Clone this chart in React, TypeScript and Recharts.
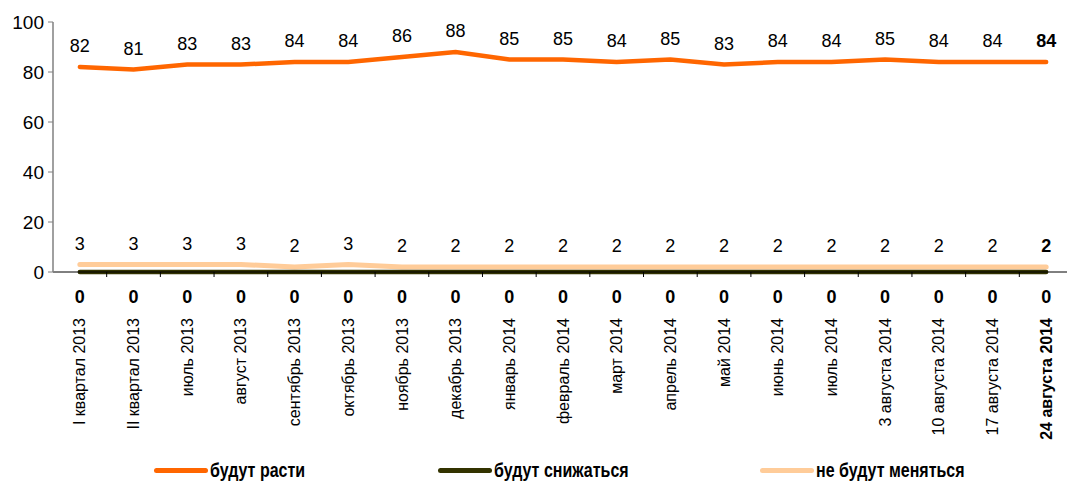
import { LineChart, Line, XAxis, YAxis } from "recharts";

const categories = [
  "I квартал 2013",
  "II квартал 2013",
  "июль 2013",
  "август 2013",
  "сентябрь 2013",
  "октябрь 2013",
  "ноябрь 2013",
  "декабрь 2013",
  "январь 2014",
  "февраль 2014",
  "март 2014",
  "апрель 2014",
  "май 2014",
  "июнь 2014",
  "июль 2014",
  "3 августа 2014",
  "10 августа 2014",
  "17 августа 2014",
  "24 августа 2014",
];

const willGrow = [82, 81, 83, 83, 84, 84, 86, 88, 85, 85, 84, 85, 83, 84, 84, 85, 84, 84, 84];
const willFall = [0, 0, 0, 0, 0, 0, 0, 0, 0, 0, 0, 0, 0, 0, 0, 0, 0, 0, 0];
const noChange = [3, 3, 3, 3, 2, 3, 2, 2, 2, 2, 2, 2, 2, 2, 2, 2, 2, 2, 2];
const yTicks = [0, 20, 40, 60, 80, 100];

const seriesNames = ["будут расти", "будут снижаться", "не будут меняться"];
const colors = ["#ff6600", "#333300", "#ffcc99"];

const data = categories.map((name, i) => ({
  name,
  grow: willGrow[i],
  fall: willFall[i],
  same: noChange[i],
}));

const lastIndex = categories.length - 1;
const numFont = "'Liberation Sans', Arial, sans-serif";

const makeLabel = (dy: number, alwaysBold: boolean) => (props: any) => {
  const { x, y, value, index } = props;
  return (
    <text
      x={x}
      y={y + dy}
      textAnchor="middle"
      fontSize={18}
      fontFamily={numFont}
      fontWeight={alwaysBold || index === lastIndex ? "bold" : "normal"}
      fill="#000"
    >
      {value}
    </text>
  );
};

const CategoryTick = (props: any) => {
  const { x, y, payload } = props;
  const half = 1020 / categories.length / 2;
  const bold = payload.value === categories[lastIndex];
  return (
    <g>
      <line x1={x + half} x2={x + half} y1={y} y2={y + 5} stroke="#000" strokeWidth={1} />
      <text
        x={x}
        y={y + 46}
        transform={`rotate(-90, ${x}, ${y + 46})`}
        textAnchor="end"
        dy="0.35em"
        fontSize={16}
        fontFamily={numFont}
        fontWeight={bold ? "bold" : "normal"}
        fill="#000"
      >
        {payload.value}
      </text>
    </g>
  );
};

const legendLeft = [154, 438, 760];

export default function App() {
  return (
    <div style={{ position: "absolute", left: 0, top: 0, width: 1067, height: 483, overflow: "hidden", background: "#fff" }}>
      <LineChart width={1080} height={483} data={data} margin={{ top: 22, right: 7, left: 0, bottom: 0 }}>
        <XAxis
          dataKey="name"
          scale="band"
          interval={0}
          height={211}
          tickSize={0}
          tickMargin={0}
          tickLine={false}
          axisLine={{ stroke: "#000", strokeWidth: 1 }}
          tick={<CategoryTick />}
        />
        <YAxis
          domain={[0, 100]}
          ticks={yTicks}
          width={53}
          tickSize={5}
          tickMargin={4}
          axisLine={{ stroke: "#808080", strokeWidth: 1.5 }}
          tickLine={{ stroke: "#808080" }}
          tick={{ fontSize: 19, fill: "#000", fontFamily: numFont }}
        />
        <Line
          dataKey="grow"
          stroke={colors[0]}
          strokeWidth={4.5}
          strokeLinecap="round"
          dot={false}
          isAnimationActive={false}
          label={makeLabel(-15, false)}
        />
        <Line
          dataKey="same"
          stroke={colors[2]}
          strokeWidth={5}
          strokeLinecap="round"
          dot={false}
          isAnimationActive={false}
          label={makeLabel(-15, false)}
        />
        <Line
          dataKey="fall"
          stroke={colors[1]}
          strokeWidth={4.5}
          strokeLinecap="round"
          dot={false}
          isAnimationActive={false}
          label={makeLabel(31, true)}
        />
      </LineChart>
      {seriesNames.map((n, i) => (
        <div
          key={n}
          style={{
            position: "absolute",
            left: legendLeft[i],
            top: 459,
            display: "flex",
            alignItems: "center",
            fontFamily: numFont,
            fontSize: 20,
            fontWeight: "bold",
            color: "#000",
            whiteSpace: "nowrap",
          }}
        >
          <span style={{ display: "inline-block", width: 54, height: 5, borderRadius: 3, background: colors[i], marginRight: 2 }} />
          <span style={{ display: "inline-block", transform: "scaleX(0.8)", transformOrigin: "left center" }}>{n}</span>
        </div>
      ))}
    </div>
  );
}
